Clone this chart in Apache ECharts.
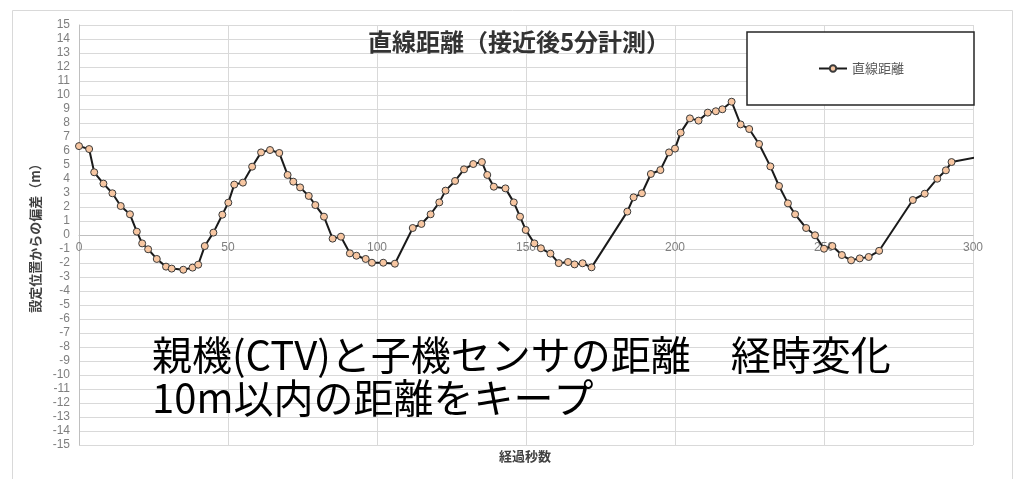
<!DOCTYPE html>
<html>
<head>
<meta charset="utf-8">
<script src="https://cdn.jsdelivr.net/npm/echarts@6/dist/echarts.min.js"></script>
<style>
  html, body { margin: 0; padding: 0; background: #ffffff; }
  #chart { width: 1015px; height: 479px; }
</style>
</head>
<body>
<div id="chart"></div>
<script>
// Elapsed seconds after approach, and deviation from the set position (m)
const seconds = [
  0, 3.4, 5.1, 8.2, 11.2, 14.0, 17.1, 19.4, 21.2, 23.2, 26.1, 29.2, 31.1, 35.0, 38.1, 40.0,
  42.2, 45.1, 48.1, 50.1, 52.1, 55.0, 58.1, 61.1, 64.1, 67.2, 70.0, 71.9, 74.2, 77.1, 79.3,
  82.2, 85.1, 87.9, 90.9, 93.1, 96.2, 98.3, 102.1, 106.0, 112.0, 114.9, 118.0, 120.9, 123.0,
  126.2, 129.2, 132.3, 135.2, 137.0, 139.2, 143.1, 145.9, 148.0, 149.9, 152.8, 155.0, 158.2,
  161.0, 164.1, 166.3, 169.0, 172.0, 184.0, 186.1, 188.9, 191.9, 195.1, 198.0, 200.0, 201.9,
  205.0, 207.9, 211.0, 213.7, 215.9, 219.0, 222.0, 224.9, 228.2, 232.0, 234.9, 237.9, 240.3,
  244.0, 247.0, 250.0, 252.8, 256.0, 259.1, 262.0, 265.0, 268.5, 279.8, 283.8, 288.0, 290.9,
  292.8, 303.0
];
const distances = [
  6.35, 6.14, 4.48, 3.67, 2.98, 2.07, 1.48, 0.24, -0.60, -1.02, -1.71, -2.26, -2.40, -2.48, -2.33, -2.12,
  -0.79, 0.17, 1.45, 2.31, 3.60, 3.74, 4.88, 5.90, 6.07, 5.86, 4.29, 3.81, 3.40, 2.79, 2.14,
  1.31, -0.26, -0.12, -1.31, -1.48, -1.71, -1.98, -1.98, -2.05, 0.50, 0.79, 1.48, 2.33, 3.17,
  3.86, 4.69, 5.07, 5.21, 4.29, 3.45, 3.33, 2.33, 1.31, 0.36, -0.60, -0.95, -1.33,
  -2.01, -1.93, -2.10, -2.02, -2.31, 1.67, 2.69, 2.98, 4.36, 4.64, 5.90, 6.17, 7.31,
  8.33, 8.17, 8.74, 8.84, 8.98, 9.52, 7.90, 7.57, 6.50, 4.90, 3.50, 2.26, 1.48,
  0.50, -0.02, -0.98, -0.79, -1.43, -1.81, -1.67, -1.57, -1.13, 2.50, 2.95, 4.02, 4.62,
  5.21, 5.62
];

const seriesName = '直線距離';
const chartTitle = '直線距離（接近後5分計測）';
const xAxisTitle = '経過秒数';
const yAxisTitle = '設定位置からの偏差（m）';
const noteLines = ['親機(CTV)と子機センサの距離　経時変化', '10m以内の距離をキープ'];

const points = seconds.map((s, i) => [s, distances[i]]);

const chart = echarts.init(document.getElementById('chart'), null, { renderer: 'canvas' });

const gridColor = '#d9d9d9';
const axisColor = '#bfbfbf';
const labelColor = '#7f7f7f';
const cjk = '"Noto Sans CJK JP", "Noto Sans", sans-serif';

// plot box in pixels; the horizontal axis sits on the zero line, halfway down
const gridTop = 25, gridBottom = 34, chartHeight = 479;
const plotHeight = chartHeight - gridTop - gridBottom;

chart.setOption({
  backgroundColor: '#ffffff',
  animation: false,
  title: {
    text: chartTitle,
    left: 514,
    top: 25,
    textAlign: 'center',
    textStyle: { fontFamily: cjk, fontSize: 24, fontWeight: 'bold', color: '#333333' }
  },
  legend: {
    left: 747,
    top: 32,
    padding: [30, 70, 30, 71],
    borderColor: '#262626',
    borderWidth: 1.5,
    backgroundColor: '#ffffff',
    itemWidth: 28,
    itemHeight: 8,
    itemGap: 5,
    textStyle: { fontFamily: cjk, fontSize: 13, color: '#595959' },
    data: [seriesName]
  },
  grid: { left: 79, right: 42, top: gridTop, bottom: gridBottom, containLabel: false },
  xAxis: {
    type: 'value',
    min: 0,
    max: 300,
    interval: 50,
    position: 'bottom',
    offset: -plotHeight / 2,
    axisLine: { onZero: false, lineStyle: { color: axisColor, width: 1 } },
    axisTick: { show: false },
    axisLabel: { color: labelColor, fontSize: 12, fontFamily: '"Liberation Sans", sans-serif', margin: 7 },
    splitLine: { show: true, lineStyle: { color: gridColor, width: 1 } }
  },
  yAxis: {
    type: 'value',
    min: -15,
    max: 15,
    interval: 1,
    name: yAxisTitle,
    nameLocation: 'middle',
    nameGap: 37,
    nameTextStyle: { fontFamily: cjk, fontSize: 13, fontWeight: 'bold', color: '#404040' },
    axisLine: { show: true, onZero: false, lineStyle: { color: axisColor, width: 1 } },
    axisTick: { show: false },
    axisLabel: { color: labelColor, fontSize: 12, fontFamily: '"Liberation Sans", sans-serif', margin: 9 },
    splitLine: { show: true, lineStyle: { color: gridColor, width: 1 } }
  },
  graphic: [
    {
      type: 'rect',
      shape: { x: 12.5, y: 10.5, width: 1000, height: 480 },
      style: { fill: 'none', stroke: '#d9d9d9', lineWidth: 1 },
      silent: true,
      z: -1
    },
    {
      type: 'text',
      left: 499,
      top: 450,
      style: { text: xAxisTitle, font: 'bold 13px ' + cjk, fill: '#404040' }
    },
    {
      type: 'text',
      left: 152,
      top: 335,
      z: 100,
      style: { text: noteLines[0], font: '40px ' + cjk, fill: '#000000' }
    },
    {
      type: 'text',
      left: 152,
      top: 378,
      z: 100,
      style: { text: noteLines[1], font: '40px ' + cjk, fill: '#000000' }
    }
  ],
  series: [
    {
      name: seriesName,
      type: 'line',
      data: points,
      clip: true,
      symbol: 'circle',
      symbolSize: 7,
      showAllSymbol: true,
      lineStyle: { color: '#1a1a1a', width: 2 },
      itemStyle: { color: '#f7c6a1', borderColor: '#3a3a3a', borderWidth: 1 },
      z: 5
    }
  ]
});
</script>
</body>
</html>
